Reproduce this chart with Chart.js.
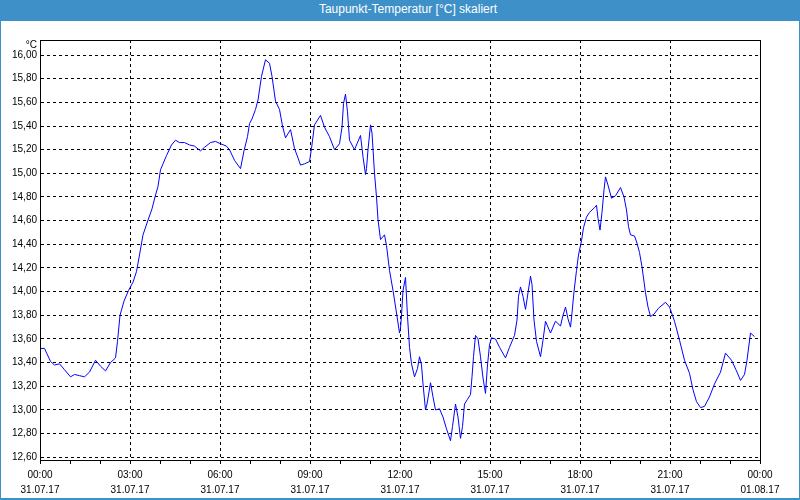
<!DOCTYPE html>
<html>
<head>
<meta charset="utf-8">
<script src="https://cdn.jsdelivr.net/npm/chart.js@4"></script>
<style>
  html, body { margin: 0; padding: 0; background: #fff; }
  #page { position: relative; width: 800px; height: 500px; overflow: hidden; }
  #frame { position: absolute; left: 0; top: 0; width: 800px; height: 500px; box-sizing: border-box;
           border: 1px solid #3d90c8; border-bottom-width: 2px; }
  #title { position: absolute; left: 0; top: 0; width: 800px; height: 21px; background: #3d90c8;
           color: #fff; font: 12px "Liberation Sans", sans-serif; line-height: 19px;
           text-align: center; padding-left: 16px; box-sizing: border-box; }
  #chart { position: absolute; left: 0; top: 0; }
</style>
</head>
<body>
<div id="page">
  <div id="frame"></div>
  <canvas id="chart" width="800" height="500"></canvas>
  <div id="title">Taupunkt-Temperatur [°C] skaliert</div>
</div>
<script>
// minutes since 31.07.17 00:00
const minutes = [
  0, 9, 21, 29, 39, 49, 61, 69, 79, 89, 99, 111, 121, 131, 141, 151, 155, 160, 168, 177,
  186, 193, 199, 206, 214, 224, 230, 236, 241, 246, 253, 263, 271, 279, 289, 299, 309, 321,
  329, 341, 351, 361, 373, 379, 389, 401, 408, 415, 419, 424, 431, 436, 443, 451, 459, 464,
  471, 479, 485, 491, 501, 509, 516, 521, 529, 539, 543, 549, 561, 569, 579, 589, 599, 604,
  607, 611, 615, 619, 629, 641, 646, 651, 653, 656, 661, 664, 669, 673, 676, 681, 689, 693,
  699, 706, 713, 719, 721, 723, 726, 731, 735, 739, 743, 749, 755, 759, 763, 766, 771, 774,
  781, 786, 791, 799, 806, 813, 821, 825, 831, 836, 841, 845, 849, 855, 861, 864, 867, 871,
  876, 881, 886, 891, 895, 899, 903, 911, 919, 931, 939, 949, 954, 957, 961, 966, 971, 976,
  981, 984, 988, 993, 1001, 1006, 1011, 1021, 1031, 1041, 1046, 1051, 1056, 1061, 1064, 1068,
  1073, 1077, 1083, 1087, 1093, 1099, 1109, 1113, 1116, 1120, 1124, 1128, 1131, 1136, 1143,
  1151, 1161, 1168, 1173, 1177, 1181, 1189, 1194, 1199, 1204, 1211, 1216, 1221, 1228, 1237,
  1251, 1259, 1269, 1279, 1289, 1299, 1306, 1313, 1321, 1329, 1339, 1349, 1361, 1371, 1383,
  1393, 1401, 1409, 1414, 1421, 1429
];
const dewPoint = [
  13.52, 13.52, 13.41, 13.38, 13.39, 13.34, 13.28, 13.30, 13.29, 13.28, 13.32, 13.42, 13.37, 13.33, 13.40, 13.44, 13.58, 13.80, 13.92, 14.01,
  14.08, 14.17, 14.31, 14.48, 14.58, 14.70, 14.80, 14.89, 15.03, 15.08, 15.15, 15.24, 15.28, 15.26, 15.26, 15.24, 15.23, 15.19,
  15.22, 15.26, 15.27, 15.25, 15.23, 15.20, 15.11, 15.04, 15.19, 15.31, 15.42, 15.46, 15.54, 15.62, 15.82, 15.96, 15.93, 15.82,
  15.61, 15.54, 15.40, 15.30, 15.37, 15.21, 15.13, 15.07, 15.08, 15.10, 15.21, 15.41, 15.49, 15.39, 15.31, 15.20, 15.25, 15.39,
  15.59, 15.67, 15.52, 15.28, 15.20, 15.32, 15.14, 14.99, 15.04, 15.20, 15.41, 15.34, 15.00, 14.80, 14.61, 14.44, 14.48, 14.39,
  14.18, 14.01, 13.82, 13.65, 13.69, 13.80, 14.01, 14.12, 13.79, 13.53, 13.39, 13.28, 13.35, 13.45, 13.38, 13.22, 13.00, 13.05,
  13.23, 13.11, 13.00, 13.01, 12.94, 12.84, 12.74, 12.86, 13.05, 12.94, 12.76, 12.86, 13.05, 13.09, 13.13, 13.28, 13.45, 13.63,
  13.60, 13.45, 13.27, 13.14, 13.38, 13.55, 13.61, 13.60, 13.53, 13.44, 13.53, 13.63, 13.76, 13.96, 14.04, 13.96, 13.85, 13.99,
  14.13, 14.06, 13.76, 13.58, 13.45, 13.59, 13.75, 13.65, 13.75, 13.71, 13.80, 13.87, 13.77, 13.70, 13.82, 14.00,
  14.18, 14.31, 14.43, 14.54, 14.63, 14.67, 14.71, 14.73, 14.62, 14.52, 14.67, 14.86, 14.97, 14.90, 14.79,
  14.81, 14.88, 14.80, 14.69, 14.55, 14.48, 14.47, 14.41, 14.33, 14.21, 13.99, 13.87, 13.79, 13.81, 13.86,
  13.91, 13.87, 13.75, 13.59, 13.42, 13.31, 13.17, 13.07, 13.02, 13.03, 13.11, 13.22, 13.32, 13.48, 13.42,
  13.33, 13.25, 13.30, 13.42, 13.65, 13.62
];

const xTickTimes = ["00:00", "03:00", "06:00", "09:00", "12:00", "15:00", "18:00", "21:00", "00:00"];
const xTickDates = ["31.07.17", "31.07.17", "31.07.17", "31.07.17", "31.07.17", "31.07.17", "31.07.17", "31.07.17", "01.08.17"];
const yTickValues = [12.6, 12.8, 13.0, 13.2, 13.4, 13.6, 13.8, 14.0, 14.2, 14.4, 14.6, 14.8, 15.0, 15.2, 15.4, 15.6, 15.8, 16.0];
const unitLabel = "°C";

const FONT = { family: "Liberation Sans", size: 10 };

const framePlugin = {
  id: "frame",
  afterDraw(chart) {
    const { ctx, chartArea: a } = chart;
    ctx.save();
    ctx.strokeStyle = "#000";
    ctx.lineWidth = 1;
    ctx.strokeRect(Math.round(a.left) + 0.5, Math.round(a.top) + 0.5,
                   Math.round(a.right - a.left), Math.round(a.bottom - a.top));
    ctx.fillStyle = "#000";
    ctx.font = '10px "Liberation Sans"';
    ctx.textAlign = "right";
    ctx.textBaseline = "middle";
    ctx.fillText(unitLabel, a.left - 3, a.top + 5);
    ctx.restore();
  },
};

new Chart(document.getElementById("chart"), {
  type: "line",
  data: {
    datasets: [{
      data: minutes.map((m, i) => ({ x: m, y: dewPoint[i] })),
      borderColor: "#0000ff",
      borderWidth: 1,
      pointRadius: 0,
      tension: 0,
      fill: false,
    }],
  },
  options: {
    responsive: false,
    animation: false,
    layout: { padding: { top: 40, right: 40, left: 0, bottom: 0 } },
    plugins: { legend: { display: false }, tooltip: { enabled: false } },
    scales: {
      x: {
        type: "linear",
        min: 0,
        max: 1440,
        afterBuildTicks: (scale) => {
          const t = [];
          for (let v = 0; v <= 1440; v += 60) t.push({ value: v });
          scale.ticks = t;
        },
        afterFit: (scale) => { scale.height = 40; },
        ticks: {
          autoSkip: false,
          maxRotation: 0,
          padding: 4,
          color: "#000",
          font: { ...FONT, lineHeight: 1.5 },
          callback: (v) => (v % 180 === 0 ? [xTickTimes[v / 180], xTickDates[v / 180]] : ""),
        },
        grid: {
          color: (c) => (c.tick && c.tick.value % 180 === 0 ? "#000" : "rgba(0,0,0,0)"),
          tickColor: "#000",
          tickLength: 4,
          tickBorderDash: [],
          lineWidth: 1,
        },
        border: { color: "#000", width: 1, dash: [3, 3] },
      },
      y: {
        min: 12.577,
        max: 16.127,
        afterBuildTicks: (scale) => { scale.ticks = yTickValues.map((v) => ({ value: v })); },
        afterFit: (scale) => { scale.width = 40; },
        ticks: {
          padding: 3,
          color: "#000",
          font: FONT,
          callback: (v) => v.toFixed(2).replace(".", ","),
        },
        grid: { color: "#000", drawTicks: false, lineWidth: 1 },
        border: { color: "#000", width: 1, dash: [3, 3] },
      },
    },
  },
  plugins: [framePlugin],
});
</script>
</body>
</html>
